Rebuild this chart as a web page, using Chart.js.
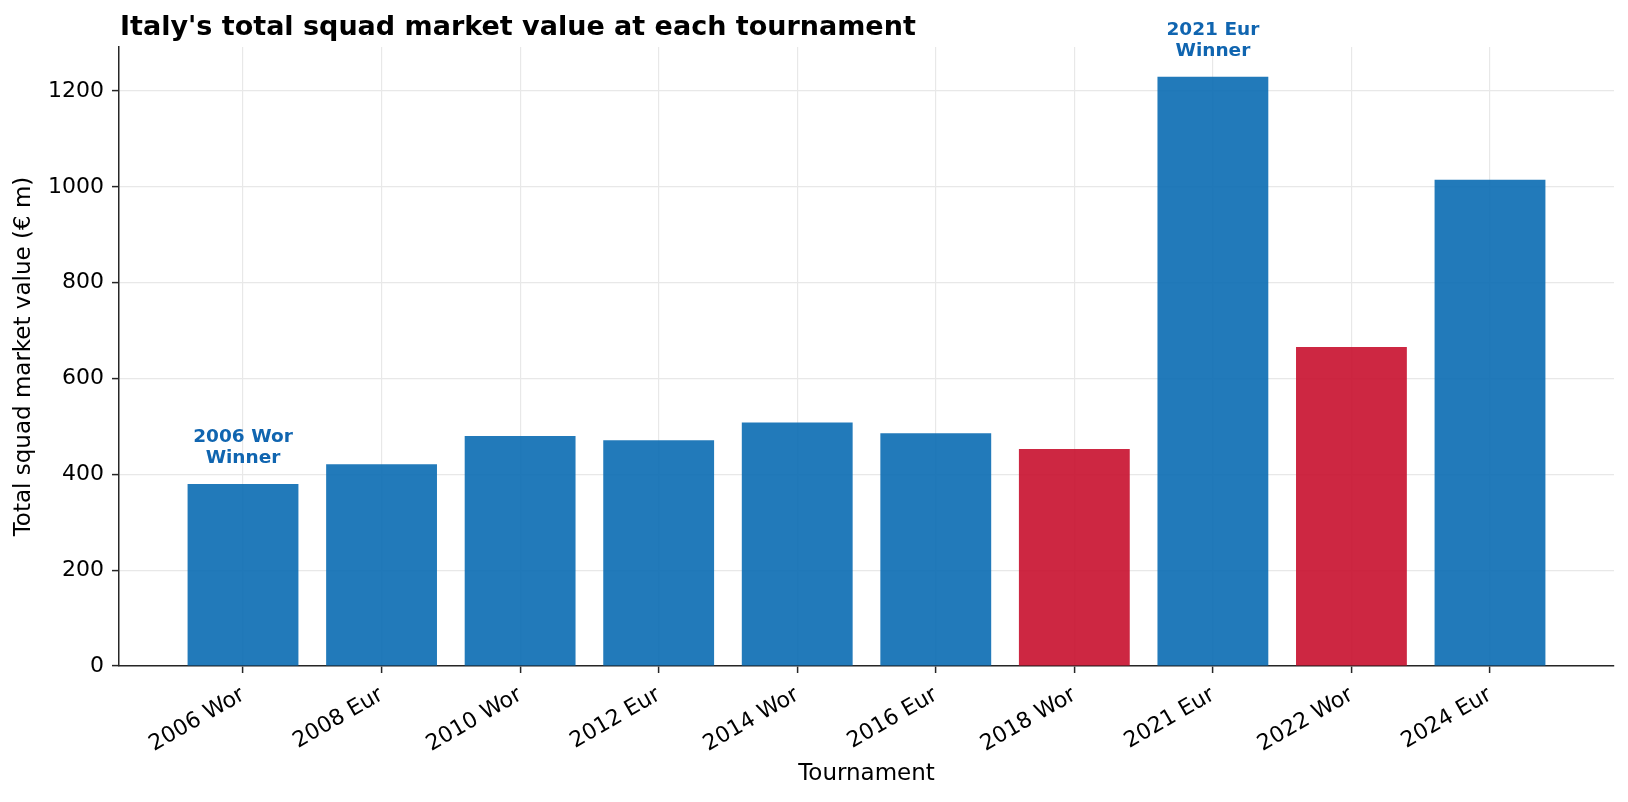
<!DOCTYPE html>
<html>
<head>
<meta charset="utf-8">
<script src="https://cdn.jsdelivr.net/npm/chart.js@4.4.1/dist/chart.umd.min.js"></script>
<style>
  html, body { margin: 0; padding: 0; background: #fff; }
  #chart { display: block; }
</style>
</head>
<body>
<canvas id="chart" width="1628" height="802"></canvas>
<script>
const tournaments = ['2006 Wor', '2008 Eur', '2010 Wor', '2012 Eur', '2014 Wor',
  '2016 Eur', '2018 Wor', '2021 Eur', '2022 Wor', '2024 Eur'];
const squadValues = [380, 421, 480, 471, 508, 486, 453, 1230, 666, 1015];
// 'W' = won the tournament, 'Q' = did not qualify, '' = took part
const outcomes = ['W', '', '', '', '', '', 'Q', 'W', 'Q', ''];
const yTicks = [0, 200, 400, 600, 800, 1000, 1200];

const BLUE = 'rgba(10, 108, 178, 0.9)';
const RED = 'rgba(200, 16, 46, 0.9)';
const FONT = "'DejaVu Sans', sans-serif";

const barColors = outcomes.map(o => (o === 'Q' ? RED : BLUE));
const barData = tournaments.map((t, i) => ({ x: i, y: squadValues[i] }));

const titleAndWinners = {
  id: 'titleAndWinners',
  afterDatasetsDraw(chart) {
    const { ctx, chartArea, scales } = chart;
    ctx.save();
    ctx.fillStyle = '#000';
    ctx.font = 'bold 27px ' + FONT;
    ctx.textAlign = 'left';
    ctx.textBaseline = 'alphabetic';
    ctx.fillText("Italy's total squad market value at each tournament", chartArea.left + 1, 35);

    ctx.fillStyle = '#1065b0';
    ctx.font = 'bold 18.5px ' + FONT;
    ctx.textAlign = 'center';
    outcomes.forEach((o, i) => {
      if (o !== 'W') return;
      const x = scales.x.getPixelForValue(i);
      const top = scales.y.getPixelForValue(squadValues[i]);
      ctx.fillText(tournaments[i], x, top - 42);
      ctx.fillText('Winner', x, top - 20.5);
    });
    ctx.restore();
  }
};

new Chart(document.getElementById('chart').getContext('2d'), {
  type: 'bar',
  data: {
    datasets: [{
      data: barData,
      backgroundColor: barColors,
      borderWidth: 0,
      barPercentage: 0.8,
      categoryPercentage: 1.0
    }]
  },
  options: {
    responsive: false,
    animation: false,
    devicePixelRatio: 1,
    layout: { padding: { top: 47, right: 14, left: 0, bottom: 0 } },
    plugins: {
      legend: { display: false },
      tooltip: { enabled: false },
      title: { display: false }
    },
    scales: {
      x: {
        type: 'linear',
        offset: false,
        min: -0.895,
        max: tournaments.length - 1 + 0.895,
        afterFit(scale) { scale.height = 136; },
        grid: {
          offset: false,
          color: '#e8e8e8',
          lineWidth: 1.2,
          tickLength: 7,
          tickColor: '#262626',
          tickWidth: 1.5
        },
        border: { display: true, color: '#262626', width: 1.5 },
        ticks: {
          stepSize: 1,
          includeBounds: false,
          autoSkip: false,
          minRotation: 30,
          maxRotation: 30,
          padding: 9,
          color: '#000',
          font: { family: FONT, size: 22 },
          callback: v => tournaments[v]
        },
        title: {
          display: true,
          text: 'Tournament',
          color: '#000',
          font: { family: FONT, size: 23 },
          padding: { top: 0, bottom: 14 }
        }
      },
      y: {
        min: 0,
        max: 1292,
        afterFit(scale) { scale.width = 119; },
        afterBuildTicks(scale) { scale.ticks = yTicks.map(v => ({ value: v })); },
        grid: {
          color: '#e8e8e8',
          lineWidth: 1.2,
          tickLength: 7,
          tickColor: '#262626',
          tickWidth: 1.5
        },
        border: { display: true, color: '#262626', width: 1.5 },
        ticks: {
          padding: 8,
          color: '#000',
          font: { family: FONT, size: 22 },
          callback: v => String(v)
        },
        title: {
          display: true,
          text: 'Total squad market value (€ m)',
          color: '#000',
          font: { family: FONT, size: 23 },
          padding: { top: 10.5, bottom: 0 }
        }
      }
    }
  },
  plugins: [titleAndWinners]
});
</script>
</body>
</html>
